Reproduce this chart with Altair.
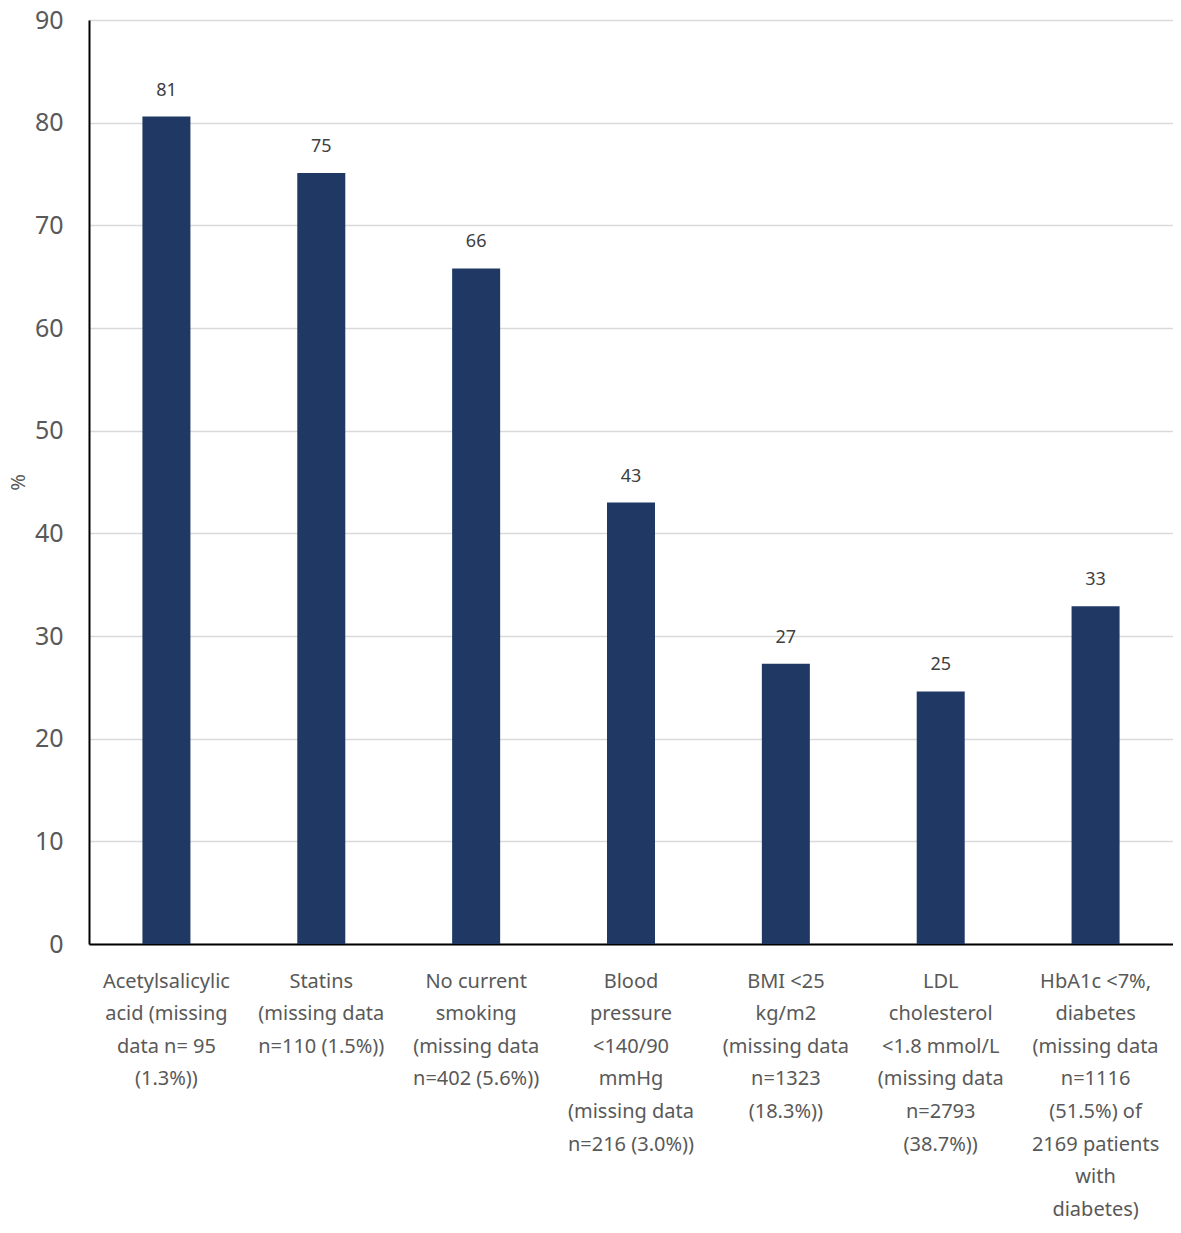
import altair as alt
import pandas as pd

categories = [
    "Acetylsalicylic|acid (missing|data n= 95|(1.3%))",
    "Statins|(missing data|n=110 (1.5%))",
    "No current|smoking|(missing data|n=402 (5.6%))",
    "Blood|pressure|<140/90|mmHg|(missing data|n=216 (3.0%))",
    "BMI <25|kg/m2|(missing data|n=1323|(18.3%))",
    "LDL|cholesterol|<1.8 mmol/L|(missing data|n=2793|(38.7%))",
    "HbA1c <7%,|diabetes|(missing data|n=1116|(51.5%) of|2169 patients|with|diabetes)",
]
values = [80.6, 75.1, 65.8, 43.0, 27.3, 24.6, 32.9]
y_ticks = [0, 10, 20, 30, 40, 50, 60, 70, 80, 90]

df = pd.DataFrame({"cat": categories, "val": values})

FONT = "Noto Sans"

x_enc = alt.X(
    "cat:N",
    sort=categories,
    title=None,
    scale=alt.Scale(paddingInner=0.69, paddingOuter=0.345),
    axis=alt.Axis(
        labelExpr="split(datum.label, '|')",
        labelAngle=0,
        labelFont=FONT,
        labelFontSize=20,
        labelColor="#595959",
        labelLineHeight=32.6,
        labelLimit=300,
        labelPadding=27,
        labelBaseline="top",
        ticks=False,
        domainColor="#000000",
        domainWidth=2,
    ),
)

y_enc = alt.Y(
    "val:Q",
    title="%",
    scale=alt.Scale(domain=[0, 90], nice=False),
    axis=alt.Axis(
        values=y_ticks,
        labelFont=FONT,
        labelFontSize=25,
        labelColor="#595959",
        labelPadding=26,
        ticks=False,
        domainColor="#000000",
        domainWidth=2,
        grid=True,
        gridColor="#d9d9d9",
        gridWidth=1.5,
        titleFont=FONT,
        titleFontSize=20,
        titleFontWeight="normal",
        titleColor="#595959",
        titlePadding=6,
    ),
)

bars = alt.Chart(df).mark_bar(color="#1F3864").encode(x=x_enc, y=y_enc)

labels = alt.Chart(df).mark_text(
    dy=-26, font=FONT, fontSize=18, color="#404040"
).encode(
    x=alt.X("cat:N", sort=categories),
    y=alt.Y("val:Q"),
    text=alt.Text("val:Q", format=".0f"),
)

chart = (
    alt.layer(bars, labels)
    .properties(
        width=1165,
        height=1212,
        autosize=alt.AutoSizeParams(type="fit", contains="padding"),
        padding={"left": 0, "top": 0, "right": 0, "bottom": 0},
    )
    .configure_view(stroke=None)
    .configure(background="white")
)

chart.save("out.html", embed_options={"renderer": "svg", "actions": False})
